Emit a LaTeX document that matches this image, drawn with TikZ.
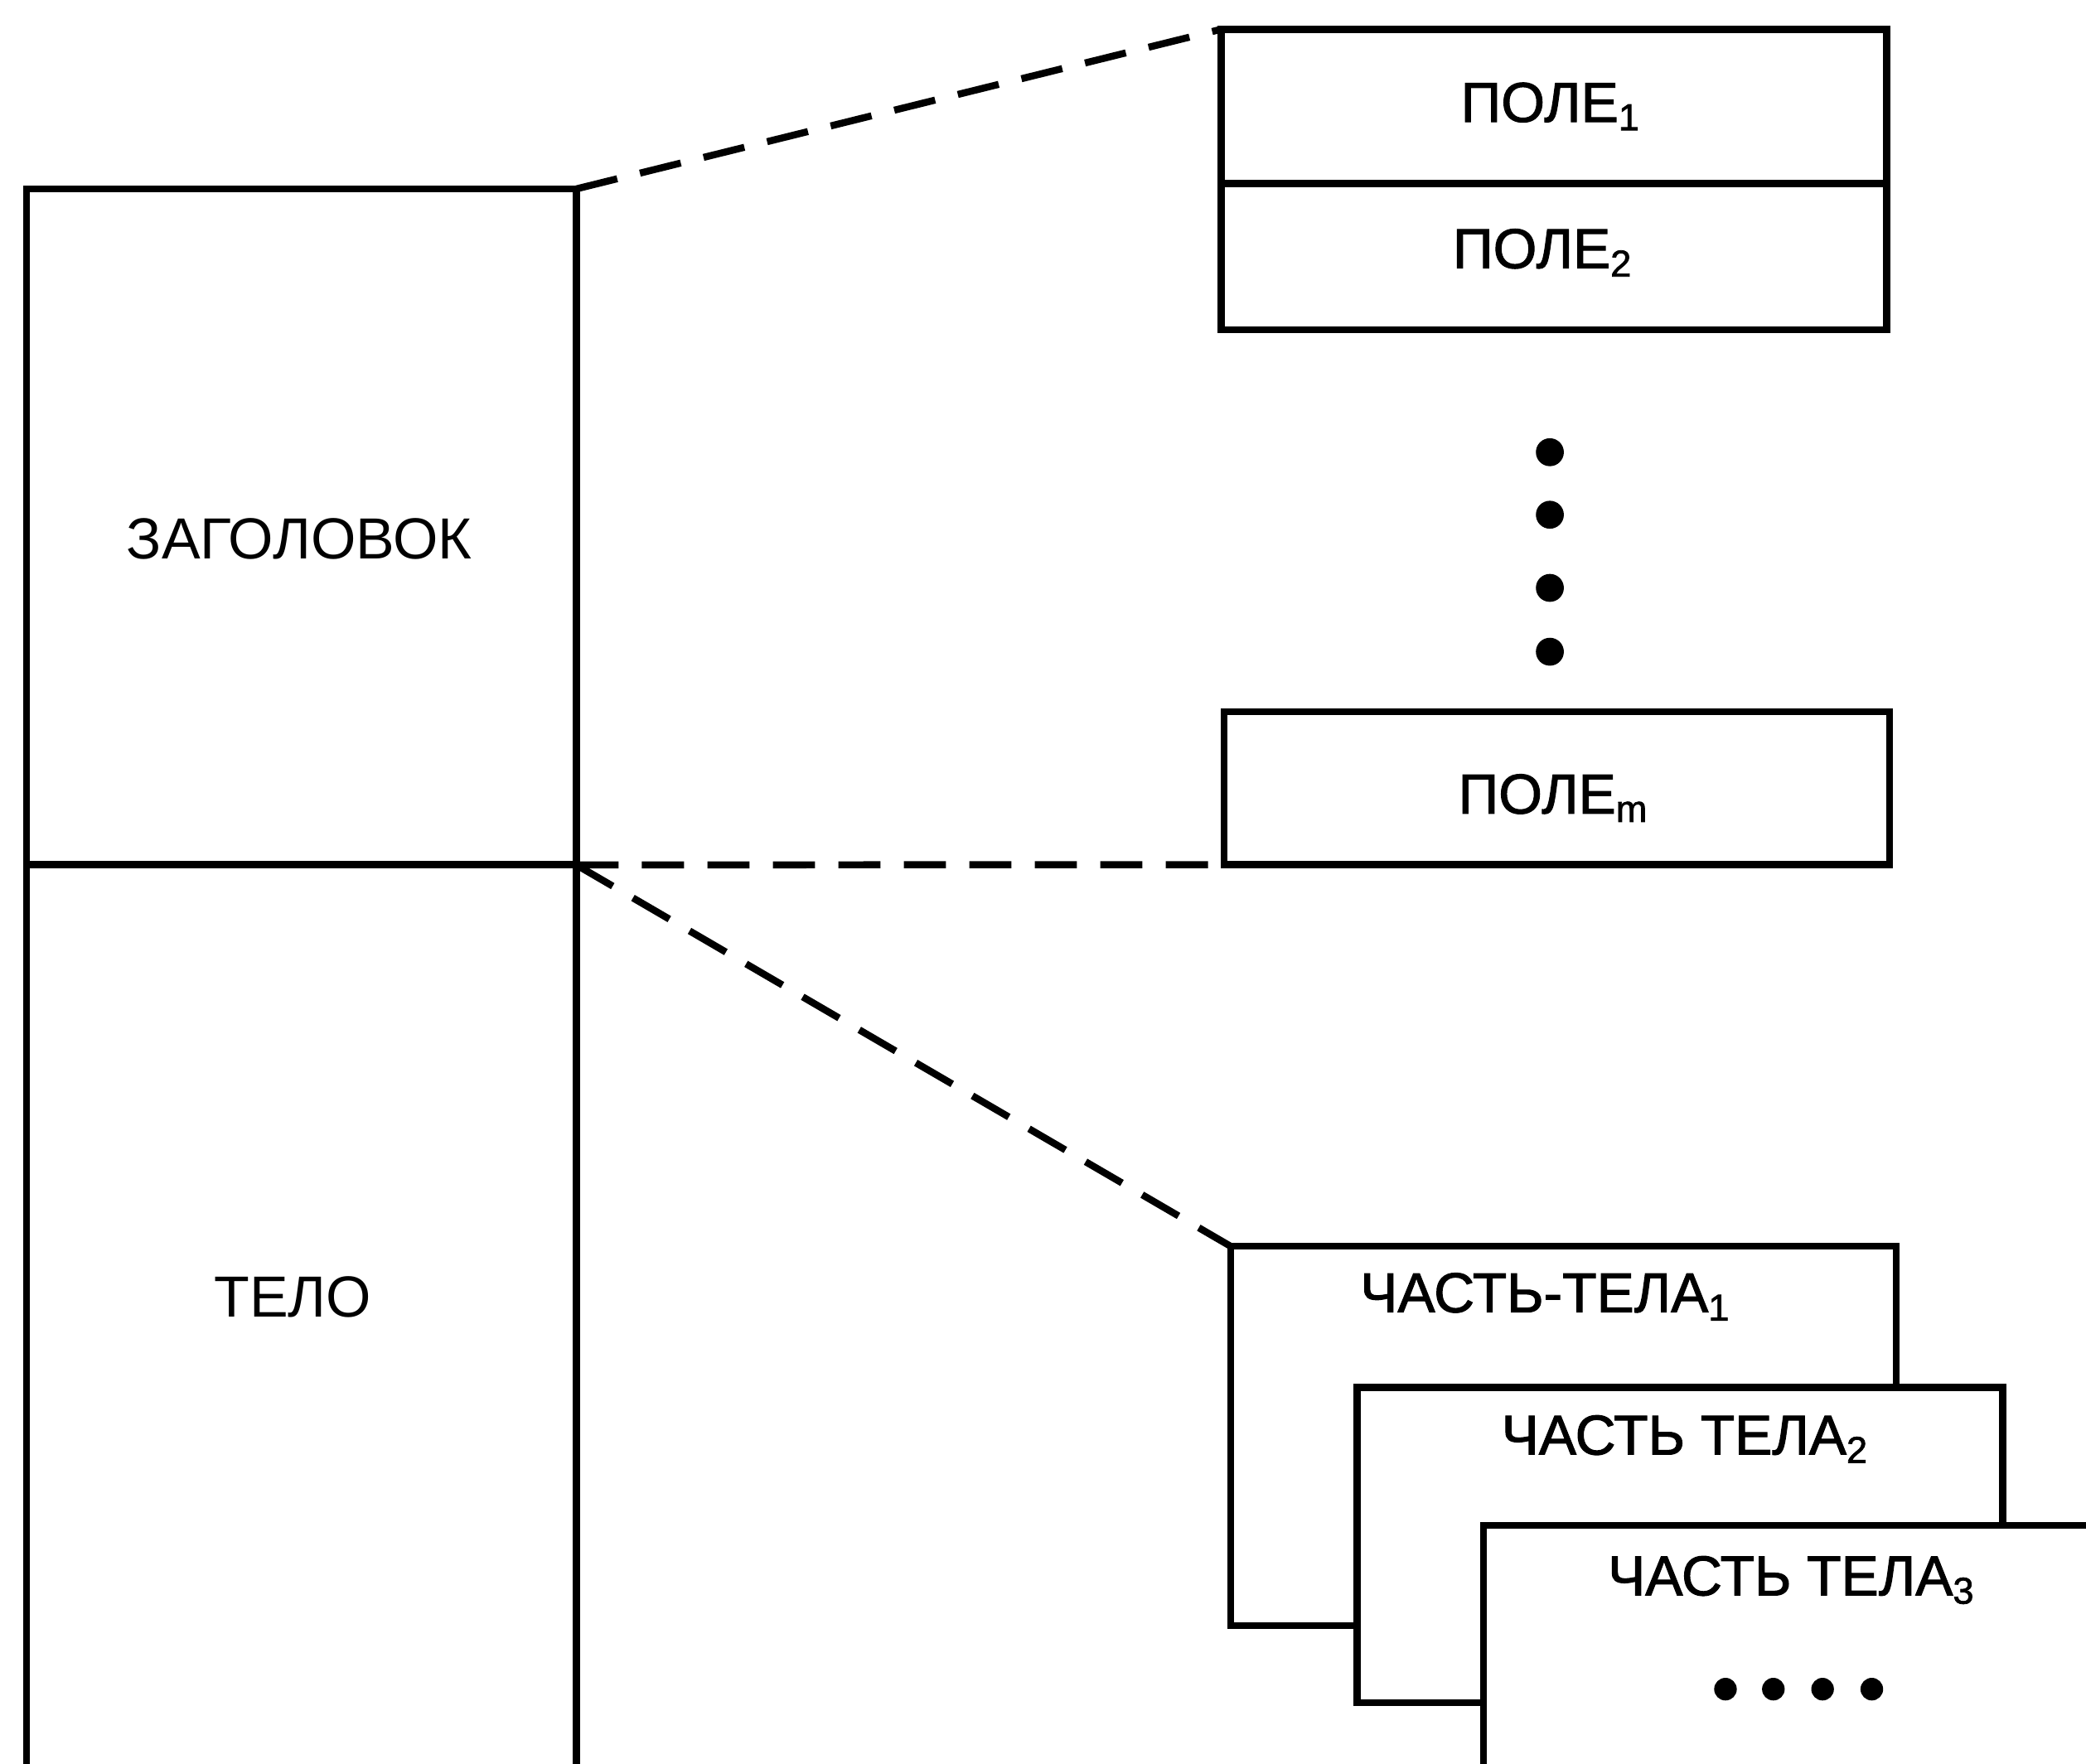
\documentclass[tikz,border=0pt]{standalone}
\usepackage{fontspec}
\setmainfont{Liberation Sans}
\newfontfamily\semibfont[FakeBold=1.6]{Liberation Sans}
\begin{document}
\begin{tikzpicture}[x=0.01cm,y=-0.01cm,
  box/.style={draw, line width=1.5pt, fill=white, inner sep=0pt, outer sep=0pt, anchor=north west},
  lbl/.style={font=\fontsize{12.4}{14}\selectfont, inner sep=0pt},
  blbl/.style={font=\fontsize{12}{14}\semibfont, inner sep=0pt},
  dashline/.style={line width=1.5pt, dash pattern=on 9pt off 5pt},
  dot/.style={circle, fill=black, inner sep=0pt, minimum size=#1}]
\useasboundingbox (0,0) rectangle (1568,1326);
\clip (0,0) rectangle (1568,1326);
% left column
\node[box, minimum width=4.13cm, minimum height=5.08cm] (hdr) at (20,142) {};
\node[box, minimum width=4.13cm, minimum height=7.2cm] (body) at (20,650) {};
\node[lbl] (hdrt) at (225,405) {ЗАГОЛОВОК};
\node[lbl] (bodyt) at (220,975) {ТЕЛО};
% fields
\node[box, minimum width=5.0cm, minimum height=1.16cm] (f1) at (918,22) {};
\node[box, minimum width=5.0cm, minimum height=1.10cm] (f2) at (918,138) {};
\node[box, minimum width=5.0cm, minimum height=1.15cm] (fm) at (920,535) {};
\node[blbl] (f1t) at (1166,80) {ПОЛЕ\textsubscript{1}};
\node[blbl] (f2t) at (1160,190) {ПОЛЕ\textsubscript{2}};
\node[blbl] (fmt) at (1168,600) {ПОЛЕ\textsubscript{m}};
\node[dot=0.21cm] (d1) at (1165,340) {};
\node[dot=0.21cm] (d2) at (1165,387) {};
\node[dot=0.21cm] (d3) at (1165,442) {};
\node[dot=0.21cm] (d4) at (1165,490) {};
% body parts
\node[box, minimum width=5.0cm, minimum height=2.85cm] (p1) at (925,937) {};
\node[box, minimum width=4.85cm, minimum height=2.37cm] (p2) at (1020,1043) {};
\node[box, minimum width=5.0cm, minimum height=2.6cm] (p3) at (1115,1147) {};
\node[blbl] (p1t) at (1162,975) {ЧАСТЬ-ТЕЛА\textsubscript{1}};
\node[blbl] (p2t) at (1267,1082) {ЧАСТЬ ТЕЛА\textsubscript{2}};
\node[blbl] (p3t) at (1347,1188) {ЧАСТЬ ТЕЛА\textsubscript{3}};
\node[dot=0.17cm] (e1) at (1297,1270) {};
\node[dot=0.17cm] (e2) at (1333,1270) {};
\node[dot=0.17cm] (e3) at (1370,1270) {};
\node[dot=0.17cm] (e4) at (1407,1270) {};
% dashed connectors
\draw[dashline] (hdr.north east) -- (f1.north west);
\draw[dashline] (hdr.south east) -- (fm.south west);
\draw[dashline] (hdr.south east) -- (p1.north west);
\end{tikzpicture}
\end{document}
